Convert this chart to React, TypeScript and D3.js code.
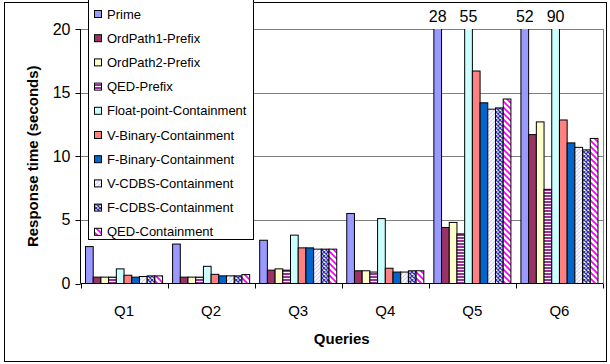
import React from "react";
import * as d3 from "d3";

const categories = ["Q1", "Q2", "Q3", "Q4", "Q5", "Q6"];
const seriesNames = [
  "Prime",
  "OrdPath1-Prefix",
  "OrdPath2-Prefix",
  "QED-Prefix",
  "Float-point-Containment",
  "V-Binary-Containment",
  "F-Binary-Containment",
  "V-CDBS-Containment",
  "F-CDBS-Containment",
  "QED-Containment",
];
const prime = [2.9, 3.1, 3.4, 5.5, 28, 52];
const ordPath1 = [0.5, 0.5, 1.05, 1.0, 4.4, 11.7];
const ordPath2 = [0.5, 0.5, 1.15, 1.0, 4.8, 12.7];
const qedPrefix = [0.5, 0.5, 1.05, 0.9, 3.9, 7.4];
const floatPoint = [1.15, 1.35, 3.8, 5.1, 55, 90];
const vBinary = [0.65, 0.72, 2.8, 1.2, 16.7, 12.85];
const fBinary = [0.5, 0.6, 2.8, 0.9, 14.2, 11.05];
const vCdbs = [0.55, 0.6, 2.7, 0.9, 13.7, 10.7];
const fCdbs = [0.6, 0.6, 2.7, 1.0, 13.8, 10.5];
const qedContainment = [0.6, 0.7, 2.7, 1.0, 14.5, 11.4];
const seriesValues = [prime, ordPath1, ordPath2, qedPrefix, floatPoint, vBinary, fBinary, vCdbs, fCdbs, qedContainment];
const yTicks = [0, 5, 10, 15, 20];

const fills = [
  "#9999FF",
  "#993366",
  "#FFFFCC",
  "url(#pQedPrefix)",
  "#CCFFFF",
  "#FF8080",
  "#0066CC",
  "url(#pVCdbs)",
  "url(#pFCdbs)",
  "url(#pQedCont)",
];

export default function App() {
  const W = 610, H = 364;
  const left = 80.5, right = 603, top = 29, bottom = 283.5;
  const x = d3.scaleBand<string>().domain(categories).range([left, right]).padding(0);
  const xi = d3
    .scaleBand<number>()
    .domain(d3.range(seriesNames.length))
    .range([0, x.bandwidth()])
    .paddingInner(0)
    .paddingOuter(0.65);
  const y = d3.scaleLinear().domain([0, 20]).range([bottom, top]);
  const font = "'Liberation Sans', Arial, sans-serif";

  return (
    <svg width={W} height={H} style={{ position: "absolute", left: 0, top: 0 }} fontFamily={font}>
      <defs>
        <pattern id="pQedPrefix" width="4" height="3" patternUnits="userSpaceOnUse">
          <rect width="4" height="3" fill="#993399" />
          <rect y="2" width="4" height="1" fill="#ffffff" />
        </pattern>
        <pattern id="pVCdbs" width="4" height="4" patternUnits="userSpaceOnUse">
          <rect width="4" height="4" fill="#ffffff" />
          <path d="M-1,5 L5,-1 M-1,1 L1,-1 M3,5 L5,3" stroke="#CCCCFF" strokeWidth="1.2" />
        </pattern>
        <pattern id="pFCdbs" width="4" height="4" patternUnits="userSpaceOnUse">
          <rect width="4" height="4" fill="#ffffff" />
          <path d="M-1,-1 L5,5 M-1,5 L5,-1" stroke="#3333AA" strokeWidth="1.3" />
        </pattern>
        <pattern id="pQedCont" width="6" height="6" patternUnits="userSpaceOnUse">
          <rect width="6" height="6" fill="#ffffff" />
          <path d="M-1,-1 L7,7 M-4,2 L4,10 M2,-4 L10,4" stroke="#FF00FF" strokeWidth="1.8" />
        </pattern>
        <clipPath id="plotClip">
          <rect x={left} y={top} width={right - left} height={bottom - top + 1} />
        </clipPath>
      </defs>

      {/* outer frame */}
      <rect x={4.5} y={2.5} width={602} height={359} fill="#fff" stroke="#000" strokeWidth={1} />

      {/* gridlines */}
      {yTicks.filter((t) => t > 0).map((t) => (
        <line key={t} x1={left} x2={right} y1={Math.round(y(t)) + 0.5} y2={Math.round(y(t)) + 0.5} stroke="#808080" strokeWidth={1} />
      ))}
      <line x1={right + 0.5} x2={right + 0.5} y1={top} y2={bottom} stroke="#808080" strokeWidth={1} />

      {/* bars */}
      <g clipPath="url(#plotClip)">
        {categories.map((c, ci) =>
          seriesValues.map((vals, si) => {
            const v = vals[ci];
            const bx = (x(c) as number) + (xi(si) as number);
            const yt = y(v);
            return (
              <rect
                key={`${ci}-${si}`}
                x={bx}
                y={yt}
                width={xi.bandwidth()}
                height={bottom - yt}
                fill={fills[si]}
                stroke="#000"
                strokeWidth={1}
              />
            );
          })
        )}
      </g>

      {/* value labels for clipped bars */}
      {categories.map((c, ci) =>
        seriesValues.map((vals, si) => {
          const v = vals[ci];
          if (v <= 20) return null;
          const cx = (x(c) as number) + (xi(si) as number) + xi.bandwidth() / 2;
          return (
            <text key={`l${ci}-${si}`} x={cx} y={22} textAnchor="middle" fontSize={16}>
              {v}
            </text>
          );
        })
      )}

      {/* axes */}
      <line x1={left} x2={left} y1={top} y2={bottom} stroke="#000" strokeWidth={1} />
      <line x1={left} x2={right} y1={bottom} y2={bottom} stroke="#000" strokeWidth={1} />
      {yTicks.map((t) => (
        <g key={t}>
          <line x1={left - 5} x2={left} y1={Math.round(y(t)) + 0.5} y2={Math.round(y(t)) + 0.5} stroke="#000" />
          <text x={left - 10} y={y(t) + 5.5} textAnchor="end" fontSize={16}>
            {t}
          </text>
        </g>
      ))}
      {categories.map((c) => (
        <text key={c} x={(x(c) as number) + x.bandwidth() / 2} y={316} textAnchor="middle" fontSize={15}>
          {c}
        </text>
      ))}
      {[...categories.map((c) => x(c) as number), right].map((px, i) => (
        <line key={i} x1={Math.round(px) + 0.5} x2={Math.round(px) + 0.5} y1={bottom} y2={bottom + 5} stroke="#000" />
      ))}
      <text x={(left + right) / 2} y={344} textAnchor="middle" fontSize={15} fontWeight="bold">
        Queries
      </text>
      <text
        transform={`translate(38, ${(top + bottom) / 2}) rotate(-90)`}
        textAnchor="middle"
        fontSize={15}
        fontWeight="bold"
      >
        Response time (seconds)
      </text>

      {/* legend */}
      <rect x={88.5} y={-2} width={165} height={241.5} fill="#fff" stroke="#000" strokeWidth={1} />
      {seriesNames.map((n, i) => {
        const cy = 14 + i * 24.2;
        return (
          <g key={n}>
            <rect x={94.5} y={cy - 3.5} width={7} height={7} fill={fills[i]} stroke="#000" strokeWidth={1} />
            <text x={107} y={cy + 4.5} fontSize={13}>
              {n}
            </text>
          </g>
        );
      })}
    </svg>
  );
}
